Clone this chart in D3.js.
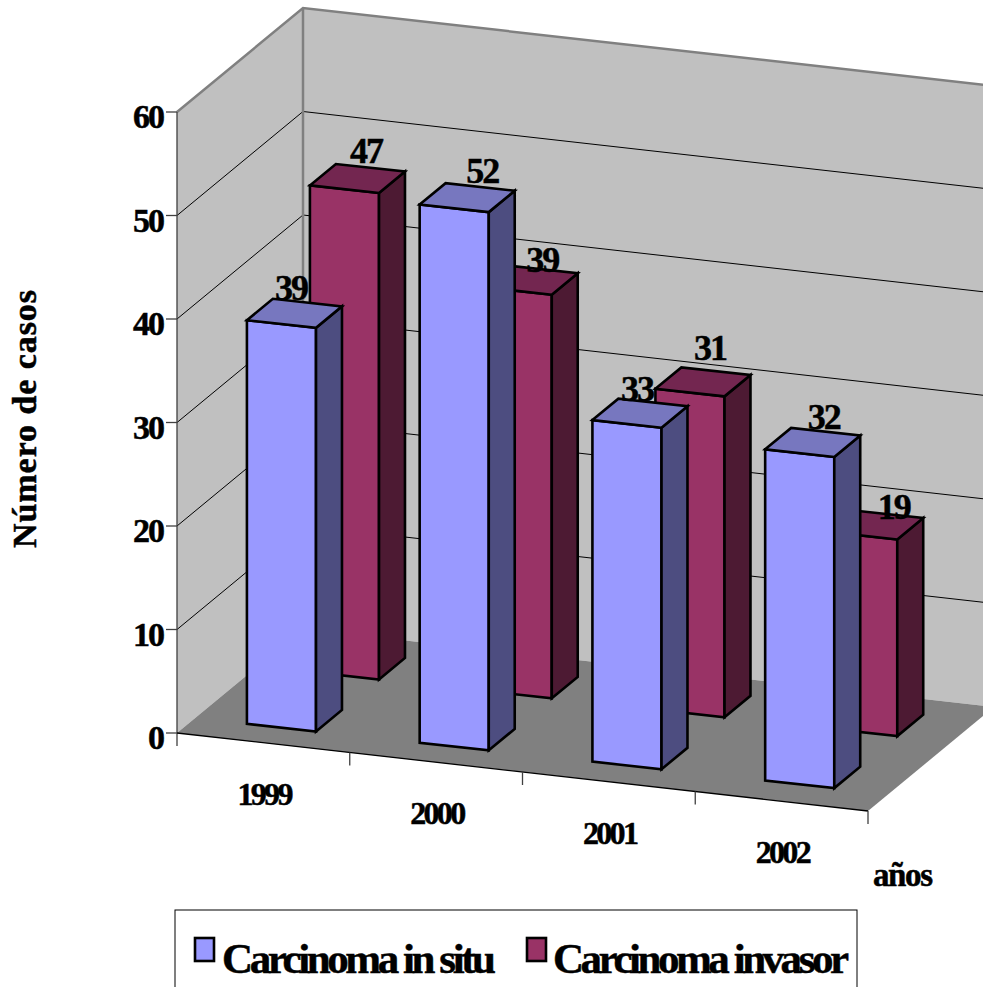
<!DOCTYPE html>
<html><head><meta charset="utf-8">
<script src="https://cdn.jsdelivr.net/npm/d3@7"></script>
<style>html,body{margin:0;padding:0;background:#fff;overflow:hidden}svg{display:block}text{font-family:"Liberation Serif",serif;font-weight:bold;fill:#000;stroke:#000;stroke-width:.5px}</style>
</head><body><svg id="c" width="983" height="987"></svg>
<script>
const categories=["1999","2000","2001","2002"];
const seriesNames=["Carcinoma in situ","Carcinoma invasor"];
const inSitu=[39,52,33,32];
const invasor=[47,39,31,19];
const yTicks=[0,10,20,30,40,50,60];
const yTitle="Número de casos";
const xTitle="años";

const svg=d3.select("#c");
const O={x:177,y:733},W={x:691,y:78},D={x:126,y:-104};
const xS=d3.scaleLinear().domain([0,4]).range([0,1]);
const yS=d3.scaleLinear().domain([0,60]).range([0,621]);
function P(c,v,d){const u=xS(c);return [O.x+u*W.x+d*D.x, O.y+u*W.y-yS(v)+d*D.y];}
function B(c,v,d){const p=P(c,v,d);return [p[0],p[1]-1-0.6*c];}
const poly=pts=>"M"+pts.map(p=>p.join(",")).join("L")+"Z";
function txt(s,x,y,size,len,anchor){
  const t=svg.append("text").attr("x",x).attr("y",y).attr("font-size",size).attr("text-anchor",anchor||"middle").text(s);
  if(len) t.attr("textLength",len).attr("lengthAdjust","spacing");
  return t;
}
// walls and floor
svg.append("path").attr("d",poly([P(0,0,0),P(0,60,0),P(0,60,1),P(0,0,1)])).attr("fill","#c0c0c0");
svg.append("path").attr("d",poly([P(0,0,1),P(0,60,1),P(4,60,1),P(4,0,1)])).attr("fill","#c0c0c0");
svg.append("path").attr("d",poly([P(0,0,0),P(0,0,1),P(4,0,1),P(4,0,0)])).attr("fill","#808080");
// gridlines
yTicks.filter(v=>v>0&&v<60).forEach(v=>{
  svg.append("path").attr("d","M"+[P(0,v,0),P(0,v,1),P(4,v,1)].map(p=>p.join(",")).join("L")).attr("fill","none").attr("stroke","#000").attr("stroke-width",1);
});
// wall borders
svg.append("path").attr("d","M"+[P(0,60,0),P(0,60,1),P(4,60,1)].map(p=>p.join(",")).join("L")).attr("fill","none").attr("stroke","#808080").attr("stroke-width",2.5);
svg.append("path").attr("d","M"+[P(0,60,1),P(0,0,1)].map(p=>p.join(",")).join("L")).attr("fill","none").attr("stroke","#808080").attr("stroke-width",2.5);
// axes
svg.append("line").attr("x1",O.x).attr("x2",O.x).attr("y1",P(0,60,0)[1]).attr("y2",O.y+13).attr("stroke","#404040").attr("stroke-width",1.3);
yTicks.forEach(v=>{
  const p=P(0,v,0);
  svg.append("line").attr("x1",p[0]-11).attr("x2",p[0]).attr("y1",p[1]).attr("y2",p[1]).attr("stroke","#404040").attr("stroke-width",1.3);
  txt(String(v),p[0]-12,p[1]+16,34,v?32:null,"end");
});
svg.append("path").attr("d","M"+[P(0,0,0),P(4,0,0)].map(p=>p.join(",")).join("L")).attr("stroke","#000").attr("stroke-width",1.3).attr("fill","none");
d3.range(1,5).forEach(i=>{const p=P(i,0,0);
  svg.append("line").attr("x1",p[0]).attr("x2",p[0]).attr("y1",p[1]).attr("y2",p[1]+13).attr("stroke","#404040").attr("stroke-width",1.3);});
categories.forEach((c,i)=>{const p=P(i+.5,0,0); txt(c,p[0]+2,p[1]+62,32,56);});
// bars
function bar(i,v,off,d0,col,top,side){
  const a=i+off,b=a+.4,d1=d0+.206;
  const g=svg.append("g").attr("stroke","#000").attr("stroke-width",2.6).attr("stroke-linejoin","miter");
  g.append("path").attr("d",poly([B(a,v,d0),B(b,v,d0),B(b,0,d0),B(a,0,d0)])).attr("fill",col);
  g.append("path").attr("d",poly([B(b,v,d0),B(b,v,d1),B(b,0,d1),B(b,0,d0)])).attr("fill",side);
  g.append("path").attr("d",poly([B(a,v,d0),B(a,v,d1),B(b,v,d1),B(b,v,d0)])).attr("fill",top);
}
const barOff=.307;
invasor.forEach((v,i)=>bar(i,v,barOff,.634,"#993366","#732650","#4d1a33"));
inSitu.forEach((v,i)=>bar(i,v,barOff,.134,"#9999ff","#7777bf","#4d4d80"));
// value labels
const nudgeSitu=[[-2.5,0],[16,-2],[-2,1],[12,0]], nudgeInv=[[9.5,-2],[13,5],[8,-9],[19,7]];
function vlabel(i,v,d0,n){
  const a=B(i+barOff,v,d0), b=B(i+barOff+.4,v,d0+.206);
  txt(String(v),(a[0]+b[0])/2+n[0],(a[1]+b[1])/2-13+n[1],36,34);
}
invasor.forEach((v,i)=>vlabel(i,v,.634,nudgeInv[i]));
inSitu.forEach((v,i)=>vlabel(i,v,.134,nudgeSitu[i]));
// titles
txt(xTitle,903,886,33,60);
txt(yTitle,0,0,34,258).attr("transform","translate(36,419) rotate(-90)");
// legend
svg.append("rect").attr("x",175).attr("y",910).attr("width",682).attr("height",90).attr("fill","#fff").attr("stroke","#000").attr("stroke-width",1);
const lg=[[195,222,274],[527,553,296]], cols=["#9999ff","#993366"];
seriesNames.forEach((s,i)=>{
  svg.append("rect").attr("x",lg[i][0]).attr("y",938).attr("width",19).attr("height",23).attr("fill",cols[i]).attr("stroke","#000").attr("stroke-width",2.6);
  txt(s,lg[i][1],973,43,lg[i][2],"start");
});
</script></body></html>
